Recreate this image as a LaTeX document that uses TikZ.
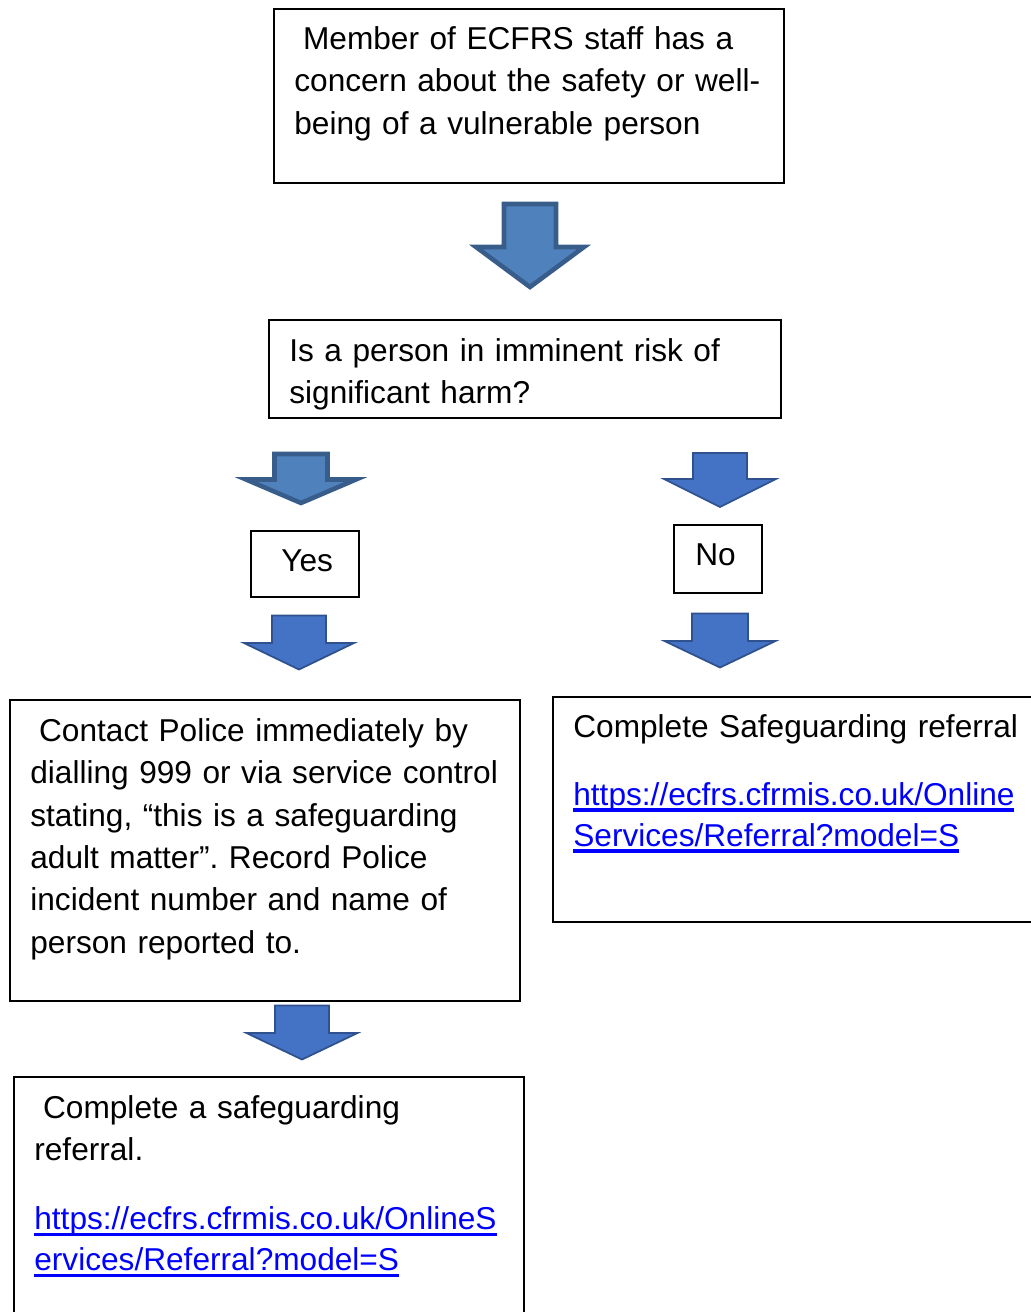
\documentclass[tikz,border=0pt]{standalone}
\usepackage{fontspec}
\setmainfont{Liberation Sans}
\usepackage{xcolor}
\usetikzlibrary{positioning}
\frenchspacing
\definecolor{arrowfill}{HTML}{4F81BD}
\definecolor{arrowline}{HTML}{385D8A}
\definecolor{arrowfillb}{HTML}{4472C4}
\definecolor{arrowlineb}{HTML}{2F528F}
\definecolor{linkblue}{HTML}{0000FF}
% underlined link text
\newsavebox{\lnkbox}
\newcommand{\lnk}[1]{\leavevmode\sbox{\lnkbox}{#1}\rlap{\usebox{\lnkbox}}\rule[-3.7pt]{\wd\lnkbox}{1.8pt}}
% block arrow: style, centre x, top, half body, half head, head base, tip
\newcommand{\blockarr}[7]{%
\draw[#1] (#2-#4,#3) -- (#2+#4,#3) -- (#2+#4,#6) -- (#2+#5,#6) -- (#2,#7) -- (#2-#5,#6) -- (#2-#4,#6) -- cycle;}

\begin{document}
\begin{tikzpicture}[x=0.02cm, y=-0.02cm,
box/.style={draw, line width=1pt, rectangle, anchor=north west, inner sep=0},
txt/.style={anchor=base west, inner sep=0, text width=10cm, align=left, font=\fontsize{18}{24.1}\selectfont},
link/.style={txt, text=linkblue},
darkarrow/.style={fill=arrowfill, draw=arrowline, line width=2.6pt, line join=miter},
blockarrow/.style={fill=arrowfillb, draw=arrowlineb, line width=1pt, line join=miter}]
\useasboundingbox (0,0) rectangle (1031,1312);

% boxes
\node[box, minimum width=10.2cm, minimum height=3.48cm] (concern) at (273,8) {};
\node[box, minimum width=10.24cm, minimum height=1.96cm] (risk) at (268,319) {};
\node[box, minimum width=2.16cm, minimum height=1.32cm] (yes) at (250,530) {};
\node[box, minimum width=1.76cm, minimum height=1.36cm] (no) at (673,524) {};
\node[box, minimum width=10.2cm, minimum height=6.02cm] (police) at (9,699) {};
\node[box, minimum width=9.8cm, minimum height=4.5cm] (online) at (552,696) {};
\node[box, minimum width=10.2cm, minimum height=5.2cm] (referral) at (13,1076) {};

% texts
\node[txt] (concerntxt) at (294,49.5) {\hspace*{5pt}Member of ECFRS staff has a\\concern about the safety or well-\\being of a vulnerable person};
\node[txt] (risktxt) at (289,361.5) {Is a person in imminent risk of\\significant harm?};
\node[txt, text width=2cm] (yestxt) at (281,571.5) {Yes};
\node[txt, text width=2cm] (notxt) at (695,565.5) {No};
\node[txt] (policetxt) at (30,741.5) {\hspace*{5pt}Contact Police immediately by\\dialling 999 or via service control\\stating, “this is a safeguarding\\adult matter”. Record Police\\incident number and name of\\person reported to.};
\node[txt] (onlinetxt) at (573,737) {Complete Safeguarding referral};
\node[link] (onlinelink) at (573,805) {\lnk{https://ecfrs.cfrmis.co.uk/Online}\\[-0.7pt]\lnk{Services/Referral?model=S}};
\node[txt] (referraltxt) at (34,1118.5) {\hspace*{5pt}Complete a safeguarding\\referral.};
\node[link] (referrallink) at (34,1229.5) {\lnk{https://ecfrs.cfrmis.co.uk/OnlineS}\\[-0.7pt]\lnk{ervices/Referral?model=S}};

% arrows
\blockarr{darkarrow}{530}{204}{26}{54}{247}{287}
\blockarr{darkarrow}{301}{454}{26.5}{55}{479.5}{503}
\blockarr{blockarrow}{720}{453}{27}{56}{479}{507}
\blockarr{blockarrow}{299}{615.5}{27}{55}{643}{669.5}
\blockarr{blockarrow}{720}{613.5}{28}{55.5}{641}{667.5}
\blockarr{blockarrow}{302}{1005.5}{27}{55.5}{1033}{1059.5}
\end{tikzpicture}
\end{document}
